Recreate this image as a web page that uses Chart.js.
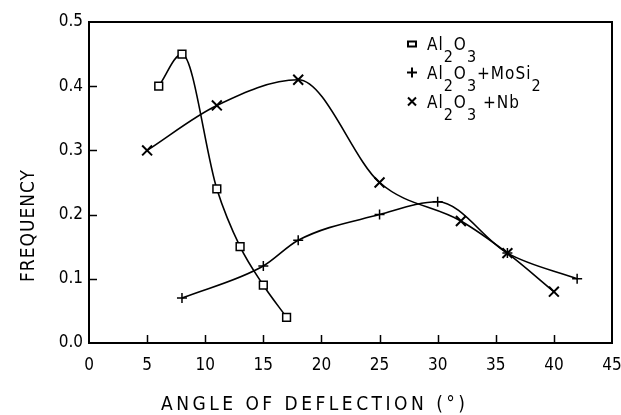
<!DOCTYPE html>
<html>
<head>
<meta charset="utf-8">
<script src="https://cdn.jsdelivr.net/npm/chart.js@4/dist/chart.umd.min.js"></script>
<style>
  html, body { margin: 0; padding: 0; background: #fff; }
  #c { display: block; }
</style>
</head>
<body>
<canvas id="c" width="621" height="415"></canvas>
<script>
// ---- data ----
const al2o3X = [6, 8, 11, 13, 15, 17];
const al2o3Y = [0.40, 0.45, 0.24, 0.15, 0.09, 0.04];
const mosi2X = [8, 15, 18, 25, 30, 36, 42];
const mosi2Y = [0.07, 0.12, 0.16, 0.20, 0.22, 0.14, 0.10];
const nbX = [5, 11, 18, 25, 32, 36, 40];
const nbY = [0.30, 0.37, 0.41, 0.25, 0.19, 0.14, 0.08];
const seriesLabels = ['Al₂O₃', 'Al₂O₃+MoSi₂', 'Al₂O₃ +Nb'];
const xTicks = [0, 5, 10, 15, 20, 25, 30, 35, 40, 45];
const yTicks = [0.0, 0.1, 0.2, 0.3, 0.4, 0.5];
const xTitle = 'ANGLE OF DEFLECTION (°)';
const yTitle = 'FREQUENCY';

const FONT = "'DejaVu Sans Condensed', 'Liberation Sans Narrow', 'DejaVu Sans', sans-serif";
const pts = (xs, ys) => xs.map((x, i) => ({ x: x, y: ys[i] }));

const subMap = { '₀':'0','₁':'1','₂':'2','₃':'3','₄':'4','₅':'5','₆':'6','₇':'7','₈':'8','₉':'9' };

function drawRich(ctx, text, x, y, size) {
  // draws text where unicode subscript digits are lowered
  let cx = x;
  for (const ch of text) {
    const isSub = subMap[ch] !== undefined;
    const c = isSub ? subMap[ch] : ch;
    ctx.font = (isSub ? size - 1 : size) + 'px ' + FONT;
    ctx.fillText(c, cx, isSub ? y + 12 : y);
    cx += ctx.measureText(c).width + 1;
  }
}

const framePlugin = {
  id: 'frame',
  afterDraw(chart) {
    const ctx = chart.ctx;
    const a = chart.chartArea;
    const xs = chart.scales.x, ys = chart.scales.y;
    ctx.save();
    ctx.strokeStyle = '#000';
    ctx.lineWidth = 2;
    ctx.strokeRect(a.left, a.top, a.right - a.left, a.bottom - a.top);
    // inner ticks
    ctx.lineWidth = 1.5;
    ctx.beginPath();
    xTicks.slice(1, -1).forEach(v => {
      const p = Math.round(xs.getPixelForValue(v)) + 0.5;
      ctx.moveTo(p, a.bottom); ctx.lineTo(p, a.bottom - 8);
    });
    yTicks.slice(1, -1).forEach(v => {
      const p = Math.round(ys.getPixelForValue(v)) + 0.5;
      ctx.moveTo(a.left, p); ctx.lineTo(a.left + 8, p);
    });
    ctx.stroke();

    // axis titles
    ctx.fillStyle = '#000';
    ctx.textBaseline = 'middle';
    ctx.textAlign = 'left';
    ctx.font = '19px ' + FONT;
    ctx.letterSpacing = '0px';
    let w = ctx.measureText(xTitle).width;
    let sp = (304 - w) / (xTitle.length - 1);
    ctx.letterSpacing = sp + 'px';
    ctx.fillText(xTitle, 161, 405);

    ctx.save();
    ctx.translate(29, 226);
    ctx.rotate(-Math.PI / 2);
    ctx.letterSpacing = '0px';
    w = ctx.measureText(yTitle).width;
    sp = (112 - w) / (yTitle.length - 1);
    ctx.letterSpacing = sp + 'px';
    ctx.fillText(yTitle, -56, 0);
    ctx.restore();
    ctx.letterSpacing = '0px';

    // legend
    ctx.textBaseline = 'alphabetic';
    const rows = [50, 78.5, 107.5];
    const mx = 412;
    chart.data.datasets.forEach((ds, i) => {
      const by = rows[i];
      const my = by - 6;
      ctx.strokeStyle = '#000';
      ctx.lineWidth = 2;
      ctx.beginPath();
      if (i === 0) {
        ctx.strokeRect(mx - 4, my - 2.5, 8, 5);
      } else if (i === 1) {
        ctx.moveTo(mx - 5, my); ctx.lineTo(mx + 5, my);
        ctx.moveTo(mx, my - 5); ctx.lineTo(mx, my + 5);
        ctx.stroke();
      } else {
        ctx.moveTo(mx - 4, my - 4); ctx.lineTo(mx + 4, my + 4);
        ctx.moveTo(mx + 4, my - 4); ctx.lineTo(mx - 4, my + 4);
        ctx.stroke();
      }
      drawRich(ctx, ds.label, 427, by, 17);
    });
    ctx.restore();
  }
};

new Chart(document.getElementById('c'), {
  type: 'scatter',
  data: {
    datasets: [
      { label: seriesLabels[0], data: pts(al2o3X, al2o3Y), pointStyle: 'rect', pointRadius: 5.5,
        pointBackgroundColor: '#fff', pointBorderWidth: 1.5 },
      { label: seriesLabels[1], data: pts(mosi2X, mosi2Y), pointStyle: 'cross', pointRadius: 5,
        pointBorderWidth: 1.5 },
      { label: seriesLabels[2], data: pts(nbX, nbY), pointStyle: 'crossRot', pointRadius: 7,
        pointBorderWidth: 2 }
    ].map(d => Object.assign({
      showLine: true, borderColor: '#000', borderWidth: 1.6, pointBorderColor: '#000',
      cubicInterpolationMode: 'monotone', fill: false
    }, d))
  },
  options: {
    responsive: false,
    animation: false,
    layout: { padding: { top: 22, right: 9, left: 0, bottom: 0 } },
    plugins: { legend: { display: false }, tooltip: { enabled: false } },
    scales: {
      x: {
        type: 'linear', min: 0, max: 45,
        grid: { display: false, drawTicks: false },
        border: { display: false },
        afterBuildTicks: s => { s.ticks = xTicks.map(v => ({ value: v })); },
        ticks: { padding: 12, color: '#000', maxRotation: 0, autoSkip: false,
                 font: { family: FONT, size: 17 } },
        afterFit: s => { s.height = 72; s.paddingLeft = 0; s.paddingRight = 0; }
      },
      y: {
        min: 0, max: 0.5,
        grid: { display: false, drawTicks: false },
        border: { display: false },
        afterBuildTicks: s => { s.ticks = yTicks.map(v => ({ value: v })); },
        ticks: { padding: 6, color: '#000', font: { family: FONT, size: 17 },
                 callback: v => Number(v).toFixed(1) },
        afterFit: s => { s.width = 89; s.paddingTop = 0; s.paddingBottom = 0; }
      }
    }
  },
  plugins: [framePlugin]
});
</script>
</body>
</html>
